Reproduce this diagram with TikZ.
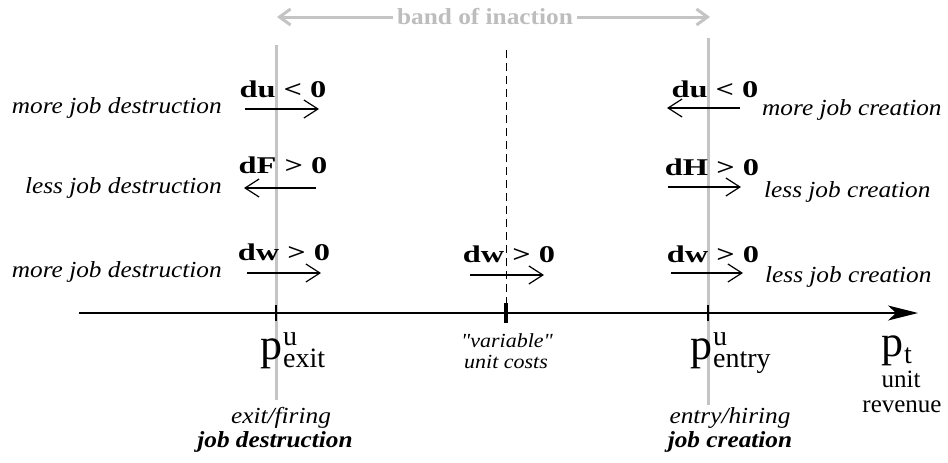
\documentclass[tikz,border=0pt]{standalone}
\usepackage{fontspec}
\usepackage{graphicx}
\setmainfont{Liberation Serif}[FakeStretch=1.1]
\newfontfamily\relfont{Liberation Serif}[FakeStretch=1.35]
\newfontfamily\plainfont{Liberation Serif}
\newfontfamily\quotefont{Liberation Serif}[FakeStretch=1.1]
\usetikzlibrary{arrows.meta}
\definecolor{lgray}{HTML}{C4C4C4}
\definecolor{tgray}{HTML}{BDBDBD}
\newcommand{\plab}[3]{{\plainfont\fontsize{44}{44}\selectfont p}\kern1pt\rlap{\raisebox{14pt}{\plainfont\fontsize{28}{28}\selectfont #2}}\raisebox{-8pt}{\plainfont\fontsize{28}{28}\selectfont #3}}
\tikzset{
  lbl/.style={inner sep=0pt, anchor=base, font=\fontsize{23}{23}\selectfont\itshape},
  lblr/.style={lbl, anchor=base east},
  lbll/.style={lbl, anchor=base west},
  rel/.style={inner sep=0pt, anchor=base, font=\relfont\fontsize{24}{24}\selectfont\bfseries},
  sm/.style={draw, line width=1.2pt, -{Straight Barb[length=14pt,width=18pt,line width=1.2pt]}},
  guide/.style={draw=lgray, line width=3pt},
  axl/.style={inner sep=0pt, anchor=base west},
  small/.style={inner sep=0pt, anchor=base, font=\quotefont\fontsize{20}{20}\selectfont\itshape},
}
\begin{document}
\begin{tikzpicture}[x=1pt,y=-1pt]
\useasboundingbox (0,0) rectangle (948,463);
% guides
\coordinate (gl1) at (276,45); \coordinate (gl2) at (276,400);
\coordinate (gr1) at (708,38); \coordinate (gr2) at (708,405);
\draw[guide] (gl1) -- (gl2);
\draw[guide] (gr1) -- (gr2);
\coordinate (dm1) at (506,50); \coordinate (dm2) at (506,305);
\draw[line width=0.9pt, dash pattern=on 8pt off 5pt] (dm1) -- (dm2);
% band of inaction
\node[inner sep=0pt, text=tgray, font=\fontsize{23}{23}\selectfont\bfseries] (band) at (485,17) {band of inaction};
\coordinate (bl) at (277,17); \coordinate (br) at (710,17);
\draw[draw=lgray, line width=3pt, -{Straight Barb[length=11pt,width=16pt,line width=3pt]}] ([xshift=-4pt]band.west) -- (bl);
\draw[draw=lgray, line width=3pt, -{Straight Barb[length=11pt,width=16pt,line width=3pt]}] ([xshift=4pt]band.east) -- (br);
% axis
\coordinate (a1) at (79,313); \coordinate (a2) at (918,313);
\draw[line width=1.4pt, -{Stealth[length=30pt,width=15pt,inset=8pt]}] (a1) -- (a2);
\coordinate (t1a) at (276,305); \coordinate (t1b) at (276,321);
\coordinate (t2a) at (506,303); \coordinate (t2b) at (506,323);
\coordinate (t3a) at (708,305); \coordinate (t3b) at (708,321);
\draw[line width=1.3pt] (t1a) -- (t1b);
\draw[line width=3.5pt] (t2a) -- (t2b);
\draw[line width=1.3pt] (t3a) -- (t3b);
% left column
\node[rel] (r1) at (283,97) {du < 0};
\coordinate (r1a) at (245,109); \coordinate (r1b) at (319,109);
\draw[sm] (r1a) -- (r1b);
\node[lblr] (l1) at (222,113) {more job destruction};
\node[rel] (r2) at (283,173) {dF > 0};
\coordinate (r2a) at (316,188); \coordinate (r2b) at (244,188);
\draw[sm] (r2a) -- (r2b);
\node[lblr] (l2) at (222,193) {less job destruction};
\node[rel] (r3) at (284,260) {dw > 0};
\coordinate (r3a) at (247,273); \coordinate (r3b) at (321,273);
\draw[sm] (r3a) -- (r3b);
\node[lblr] (l3) at (222,277) {more job destruction};
% middle
\node[rel] (m1) at (509,262) {dw > 0};
\coordinate (m1a) at (470,275); \coordinate (m1b) at (544,275);
\draw[sm] (m1a) -- (m1b);
% right column
\node[rel] (q1) at (715,97) {du < 0};
\coordinate (q1a) at (740,108); \coordinate (q1b) at (667,108);
\draw[sm] (q1a) -- (q1b);
\node[lbll] (k1) at (762,115) {more job creation};
\node[rel] (q2) at (712,175) {dH > 0};
\coordinate (q2a) at (668,187); \coordinate (q2b) at (741,187);
\draw[sm] (q2a) -- (q2b);
\node[lbll] (k2) at (764,197) {less job creation};
\node[rel] (q3) at (713,262) {dw > 0};
\coordinate (q3a) at (671,273); \coordinate (q3b) at (743,273);
\draw[sm] (q3a) -- (q3b);
\node[lbll] (k3) at (765,282) {less job creation};
% axis labels
\node[axl] (pe) at (260,359) {\plab{p}{u}{exit}};
\node[axl] (pn) at (690,359) {\plab{p}{u}{entry}};
\node[axl] (pt) at (881,356) {{\plainfont\fontsize{44}{44}\selectfont p}\kern1pt\raisebox{-7pt}{\plainfont\fontsize{28}{28}\selectfont t}};
\node[inner sep=0pt, anchor=base, font=\plainfont\fontsize{25}{25}\selectfont] (u1) at (901,387) {unit};
\node[inner sep=0pt, anchor=base, font=\plainfont\fontsize{25}{25}\selectfont] (u2) at (902,412) {revenue};
\node[small] (v1) at (507,347) {"variable"};
\node[small] (v2) at (506,368) {unit costs};
\node[lbl] (b1) at (281,423) {exit/firing};
\node[lbl, font=\fontsize{23}{23}\selectfont\bfseries\itshape] (b2) at (275,447) {job destruction};
\node[lbl] (b3) at (730,423) {entry/hiring};
\node[lbl, font=\fontsize{23}{23}\selectfont\bfseries\itshape] (b4) at (730,447) {job creation};
\end{tikzpicture}
\end{document}
